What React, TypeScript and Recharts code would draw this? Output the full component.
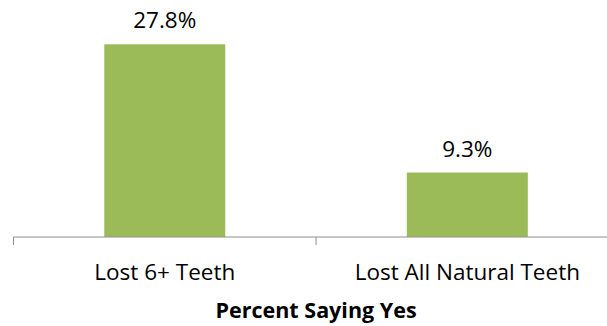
import React from "react";
import { BarChart, Bar, XAxis, YAxis, LabelList } from "recharts";

const categories = ["Lost 6+ Teeth", "Lost All Natural Teeth"];
const percentYes = [27.8, 9.3];
const axisTitle = "Percent Saying Yes";

const data = categories.map((name, i) => ({ name, value: percentYes[i] }));

const FONT = "'Open Sans', sans-serif";
const AXIS_COLOR = "#8e8e8e";

const CatTick = (props: any) => {
  const { x, y, payload, width, visibleTicksCount, index } = props;
  const half = width / visibleTicksCount / 2;
  return (
    <g>
      <line x1={x - half} y1={y} x2={x - half} y2={y + 8} stroke={AXIS_COLOR} strokeWidth={1} />
      {index === visibleTicksCount - 1 && (
        <line x1={x + half} y1={y} x2={x + half} y2={y + 8} stroke={AXIS_COLOR} strokeWidth={1} />
      )}
      <text x={x} y={y + 43} textAnchor="middle" fontFamily={FONT} fontSize={22.5} fill="#000">
        {payload.value}
      </text>
    </g>
  );
};

export default function App() {
  return (
    <div style={{ position: "absolute", left: 0, top: 0, width: 607, height: 326, overflow: "hidden", background: "#fff" }}>
      <BarChart
        width={640}
        height={326}
        data={data}
        margin={{ top: 29, right: 21.4, bottom: 0, left: 13.5 }}
        barCategoryGap="30%"
      >
        <XAxis
          dataKey="name"
          height={89}
          tickLine={false}
          tickSize={0}
          tickMargin={0}
          axisLine={{ stroke: AXIS_COLOR, strokeWidth: 1 }}
          tick={<CatTick />}
          interval={0}
          label={{
            value: axisTitle,
            position: "insideBottom",
            offset: 8,
            style: { fontFamily: FONT, fontSize: 21.5, fontWeight: 700, fill: "#000" },
          }}
        />
        <YAxis hide domain={[0, 30]} />
        <Bar dataKey="value" fill="#9BBB59" isAnimationActive={false}>
          <LabelList
            dataKey="value"
            position="top"
            offset={16}
            formatter={(v: any) => `${v}%`}
            style={{ fontFamily: FONT, fontSize: 22.5, fill: "#000" }}
          />
        </Bar>
      </BarChart>
    </div>
  );
}
